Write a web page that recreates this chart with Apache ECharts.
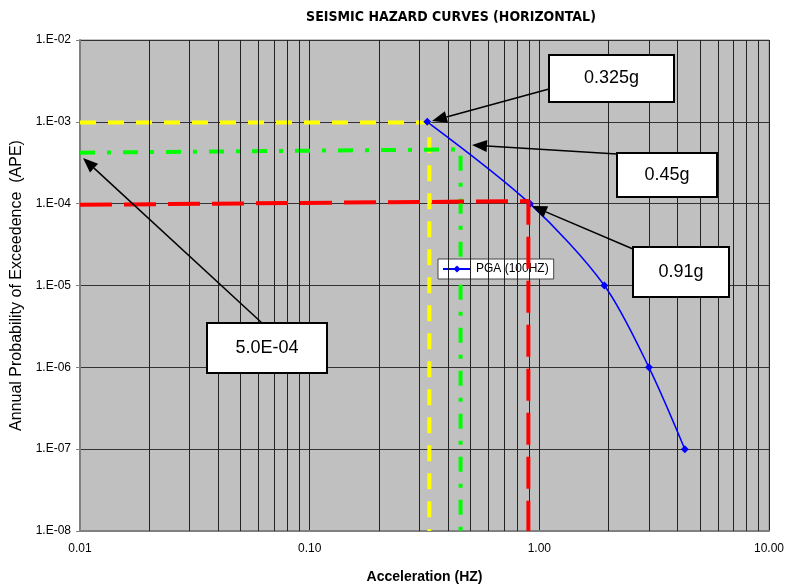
<!DOCTYPE html>
<html>
<head>
<meta charset="utf-8">
<script src="https://cdn.jsdelivr.net/npm/echarts@6/dist/echarts.min.js"></script>
<style>
html,body{margin:0;padding:0;background:#fff;}
#c{width:785px;height:588px;}
</style>
</head>
<body>
<div id="c"></div>
<script>
// ---- data ----
var pgaX = [0.325, 0.91, 1.92, 3.0, 4.3];
var pgaY = [1e-3, 1e-4, 1e-5, 1e-6, 1e-7];
var yellowX = [0.01, 0.332, 0.332];
var yellowY = [9.8e-4, 9.8e-4, 1e-8];
var greenX = [0.01, 0.454, 0.454];
var greenY = [4.2e-4, 4.6e-4, 1e-8];
var redX = [0.01, 0.896, 0.896];
var redY = [9.7e-5, 1.075e-4, 1e-8];
var minorX = [0.02,0.03,0.04,0.05,0.06,0.07,0.08,0.09,
              0.2,0.3,0.4,0.5,0.6,0.7,0.8,0.9,
              2,3,4,5,6,7,8,9];
var xTickLabels = ['0.01','0.10','1.00','10.00'];
var yTickLabels = ['1.E-08','1.E-07','1.E-06','1.E-05','1.E-04','1.E-03','1.E-02'];
var notes = ['0.325g','0.45g','0.91g','5.0E-04'];

function zip(a,b){ return a.map(function(v,i){ return [v,b[i]]; }); }
var FONT = '"Liberation Sans", Arial, sans-serif';
var NARROW = '"Liberation Sans Narrow", "Arial Narrow", "DejaVu Sans Condensed", "Liberation Sans", sans-serif';

var chart = echarts.init(document.getElementById('c'), null, {renderer:'canvas'});

function arrow(x1,y1,x2,y2){
  var dx=x2-x1, dy=y2-y1, L=Math.sqrt(dx*dx+dy*dy), ux=dx/L, uy=dy/L;
  var hl=15, hw=6;
  var bx=x2-ux*hl, by=y2-uy*hl;
  return [
    {type:'line', shape:{x1:x1,y1:y1,x2:bx,y2:by}, style:{stroke:'#000',lineWidth:1.5}, z:100},
    {type:'polygon', shape:{points:[[x2,y2],[bx-uy*hw,by+ux*hw],[bx+uy*hw,by-ux*hw]]}, style:{fill:'#000'}, z:100}
  ];
}
function box(x,y,w,h,t){
  return [
    {type:'rect', shape:{x:x,y:y,width:w,height:h}, style:{fill:'#fff',stroke:'#000',lineWidth:2}, z:101},
    {type:'text', x:x+w/2, y:y+h/2, style:{text:t, font:'18px '+FONT, fill:'#000', align:'center', verticalAlign:'middle'}, z:102}
  ];
}

var graphics = [].concat(
  arrow(549,89,432,121), box(549,55,125,47,notes[0]),
  arrow(617,154,472,145), box(617,153,100,44,notes[1]),
  arrow(633,249,532,206), box(633,247,96,50,notes[2]),
  arrow(262,323,83,158), box(207,323,120,50,notes[3])
);

var option = {
  animation:false,
  backgroundColor:'#fff',
  title:{text:'SEISMIC HAZARD CURVES (HORIZONTAL)', left:446, top:5, textAlign:'center',
    textStyle:{fontFamily:NARROW, fontSize:14, fontWeight:'bold', color:'#000'}},
  grid:{left:80, right:16, top:40, bottom:57, show:true, backgroundColor:'#c0c0c0', borderColor:'#888', borderWidth:1,
    containLabel:false, outerBoundsMode:'none'},
  legend:{data:['PGA (100HZ)'], left:438, top:259, orient:'horizontal',
    backgroundColor:'#fff', borderColor:'#444', borderWidth:1, padding:[4,5,4,4],
    itemWidth:28, itemHeight:9, itemGap:4,
    textStyle:{fontFamily:FONT, fontSize:12, color:'#000'}},
  xAxis:{type:'log', logBase:10, min:0.01, max:10,
    name:'Acceleration (HZ)', nameLocation:'middle', nameGap:39,
    nameTextStyle:{fontFamily:FONT, fontSize:14, fontWeight:'bold', color:'#000'},
    axisLine:{show:true, lineStyle:{color:'#808080', width:2}},
    axisTick:{show:false},
    axisLabel:{fontFamily:FONT, fontSize:12, color:'#000', margin:12,
      formatter:function(v){ var e=Math.round(Math.log10(v))+2; return xTickLabels[e]; }},
    splitLine:{show:true, lineStyle:{color:'#222', width:1}},
    minorTick:{show:false}, minorSplitLine:{show:false}
  },
  yAxis:{type:'log', logBase:10, min:1e-8, max:1e-2,
    name:'Annual Probability of Exceedence  (APE)', nameLocation:'middle', nameGap:55,
    nameTextStyle:{fontFamily:FONT, fontSize:16, fontWeight:'normal', color:'#000'},
    axisLine:{show:true, lineStyle:{color:'#808080', width:2}},
    axisTick:{show:true, length:4, lineStyle:{color:'#808080'}},
    axisLabel:{fontFamily:FONT, fontSize:12, color:'#000', margin:9,
      formatter:function(v){ var e=Math.round(Math.log10(v))+8; return yTickLabels[e]; }},
    splitLine:{show:true, lineStyle:{color:'#333', width:1.2}}
  },
  series:[
    {type:'line', name:'minor', data:[], silent:true, z:1,
      markLine:{silent:true, symbol:['none','none'], label:{show:false}, animation:false,
        lineStyle:{color:'#222', width:1, type:'solid'},
        data:minorX.map(function(v){ return {xAxis:v}; })}},
    {type:'line', name:'yellow', data:zip(yellowX,yellowY), showSymbol:false, symbol:'none', z:3,
      lineStyle:{color:'#ffff00', width:4, type:[16,12]}},
    {type:'line', name:'green', data:zip(greenX,greenY), showSymbol:false, symbol:'none', z:3,
      lineStyle:{color:'#00ff00', width:4, type:[15,12,4,12]}},
    {type:'line', name:'red', data:zip(redX,redY), showSymbol:false, symbol:'none', z:6,
      lineStyle:{color:'#ff0000', width:4, type:[32,12]}},
    {type:'line', name:'PGA (100HZ)', data:zip(pgaX,pgaY), smooth:0.3, z:5,
      symbol:'diamond', symbolSize:8, showSymbol:true,
      itemStyle:{color:'#0000ff'}, lineStyle:{color:'#0000ff', width:1.5}}
  ],
  graphic:graphics
};
chart.setOption(option);
</script>
</body>
</html>
